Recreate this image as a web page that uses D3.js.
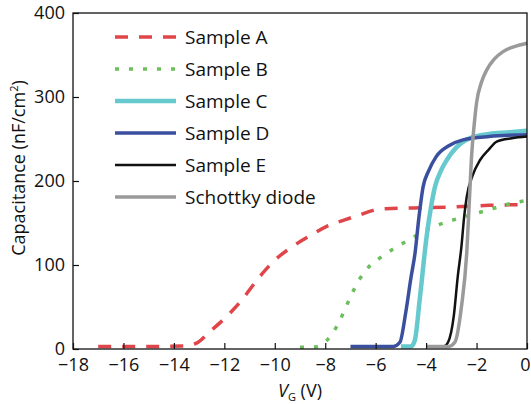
<!DOCTYPE html>
<html>
<head>
<meta charset="utf-8">
<script src="https://cdn.jsdelivr.net/npm/d3@7"></script>
<style>
  body { margin: 0; background: #fff; }
  svg text { font-family: "Open Sans", "Noto Sans", sans-serif; fill: #111; }
</style>
</head>
<body>
<div id="chart"></div>
<script>
// data: [V_G, capacitance]
const sampleA = [[-17, 3], [-15, 3], [-13.6, 3.5], [-13.1, 7], [-12.6, 20], [-12.04, 35], [-11.4, 55], [-10.6, 86],
  [-10.06, 104], [-9.3, 122], [-8.6, 135], [-7.94, 146], [-7.2, 154], [-6.6, 160], [-6.1, 165], [-5.6, 167],
  [-4.5, 168], [-3, 169], [-1.5, 171], [0, 172]];
const sampleB = [[-9, 2], [-8.4, 2.5], [-8.1, 6], [-7.8, 15], [-7.54, 27], [-7.28, 43], [-7.0, 62], [-6.62, 84],
  [-6.2, 100], [-5.8, 109], [-5.2, 121], [-4.5, 133], [-3.85, 144], [-3.2, 151], [-2.54, 157], [-1.6, 165],
  [-0.8, 172], [0, 177]];
const sampleC = [[-5, 3], [-4.6, 3], [-4.45, 10], [-4.25, 60], [-3.98, 134], [-3.8, 170], [-3.65, 193], [-3.4, 213],
  [-3.18, 225], [-2.8, 240], [-2.26, 251], [-1.5, 256], [-0.7, 258], [0, 260]];
const sampleD = [[-7, 3], [-5.3, 3], [-5.04, 8], [-4.8, 45], [-4.6, 85], [-4.44, 114], [-4.28, 158], [-4.12, 193],
  [-3.9, 212], [-3.6, 229], [-3.1, 242], [-2.54, 249], [-1.5, 253], [0, 255]];
const sampleE = [[-4.0, 3], [-3.3, 3], [-3.13, 8], [-2.9, 40], [-2.75, 85], [-2.6, 122], [-2.49, 158], [-2.39, 181],
  [-2.15, 207], [-1.86, 225], [-1.5, 238], [-1.2, 247], [-0.6, 251], [0, 253]];
const schottky = [[-4.0, 3], [-3.1, 3], [-2.86, 8], [-2.6, 50], [-2.39, 114], [-2.28, 180], [-2.19, 233], [-2.1, 265],
  [-2.0, 293], [-1.8, 318], [-1.6, 332], [-1.3, 345], [-0.95, 354], [-0.5, 360], [0, 364]];

const seriesNames = ["Sample A", "Sample B", "Sample C", "Sample D", "Sample E", "Schottky diode"];
const seriesData = [sampleA, sampleB, sampleC, sampleD, sampleE, schottky];
const xTicks = [-18, -16, -14, -12, -10, -8, -6, -4, -2, 0];
const yTicks = [0, 100, 200, 300, 400];

const styles = [
  { color: "#e0454a", width: 3.5, dash: "13,11" },
  { color: "#6cbf5c", width: 3.5, dash: "4,10" },
  { color: "#66c9ce", width: 4.5, dash: null },
  { color: "#3b4f9f", width: 3.5, dash: null },
  { color: "#111111", width: 2.5, dash: null },
  { color: "#9a9a9a", width: 3.5, dash: null }
];

const margin = { top: 13, right: 4, bottom: 55, left: 73 };
const totalWidth = 531, totalHeight = 404;
const width = totalWidth - margin.left - margin.right;
const height = totalHeight - margin.top - margin.bottom;

const svg = d3.select("#chart").append("svg")
  .attr("width", totalWidth)
  .attr("height", totalHeight);

const g = svg.append("g")
  .attr("transform", `translate(${margin.left},${margin.top})`);

const x = d3.scaleLinear().domain([-18, 0]).range([0, width]);
const y = d3.scaleLinear().domain([0, 400]).range([height, 0]);

const line = d3.line()
  .x(d => x(d[0]))
  .y(d => y(d[1]))
  .curve(d3.curveMonotoneX);

// curves
g.selectAll(".curve")
  .data(seriesData)
  .enter().append("path")
    .attr("class", "curve")
    .attr("fill", "none")
    .attr("stroke", (d, i) => styles[i].color)
    .attr("stroke-width", (d, i) => styles[i].width)
    .attr("stroke-dasharray", (d, i) => styles[i].dash)
    .attr("d", line);

// frame
g.append("rect")
  .attr("width", width)
  .attr("height", height)
  .attr("fill", "none")
  .attr("stroke", "#111")
  .attr("stroke-width", 1.3);

const fmt = v => v < 0 ? "\u2212" + Math.abs(v) : String(v);

const xAxis = d3.axisBottom(x).tickValues(xTicks).tickSize(-6).tickPadding(11).tickFormat(fmt);
const yAxis = d3.axisLeft(y).tickValues(yTicks).tickSize(-6).tickPadding(8);

const gx = g.append("g")
  .attr("transform", `translate(0,${height})`)
  .call(xAxis);
const gy = g.append("g").call(yAxis);

[gx, gy].forEach(ax => {
  ax.select(".domain").remove();
  ax.selectAll(".tick line").attr("stroke", "#111").attr("stroke-width", 1.2);
  ax.selectAll(".tick text").style("font-size", "18px").attr("fill", "#111");
});
gx.selectAll(".tick text").attr("dy", "0.6em");
gy.selectAll(".tick text").attr("dy", "0.3em");
// keep the last x label inside the picture
gx.selectAll(".tick text").filter(d => d === 0).attr("dx", -2);

// axis labels
const xl = g.append("text")
  .attr("x", width / 2)
  .attr("y", height + 48)
  .attr("text-anchor", "middle")
  .style("font-size", "18px");
xl.append("tspan").style("font-style", "italic").text("V");
xl.append("tspan").attr("dy", 4).style("font-size", "11px").text("G");
xl.append("tspan").attr("dy", -4).text(" (V)");

const yl = g.append("text")
  .attr("transform", `translate(${-margin.left + 25},${height / 2 - 13}) rotate(-90)`)
  .attr("text-anchor", "middle")
  .style("font-size", "18px");
yl.append("tspan").text("Capacitance (nF/cm");
yl.append("tspan").attr("dy", -7).style("font-size", "11px").text("2");
yl.append("tspan").attr("dy", 7).text(")");

// legend
const legend = g.selectAll(".legend")
  .data(seriesNames)
  .enter().append("g")
    .attr("class", "legend")
    .attr("transform", (d, i) => `translate(${115 - margin.left},${37 - margin.top + i * 32})`);

legend.append("line")
  .attr("x1", 0)
  .attr("x2", 61)
  .attr("stroke", (d, i) => styles[i].color)
  .attr("stroke-width", (d, i) => styles[i].width)
  .attr("stroke-dasharray", (d, i) => styles[i].dash);

legend.append("text")
  .attr("x", 70)
  .attr("dy", "0.35em")
  .style("font-size", "19px")
  .text(d => d);
</script>
</body>
</html>
